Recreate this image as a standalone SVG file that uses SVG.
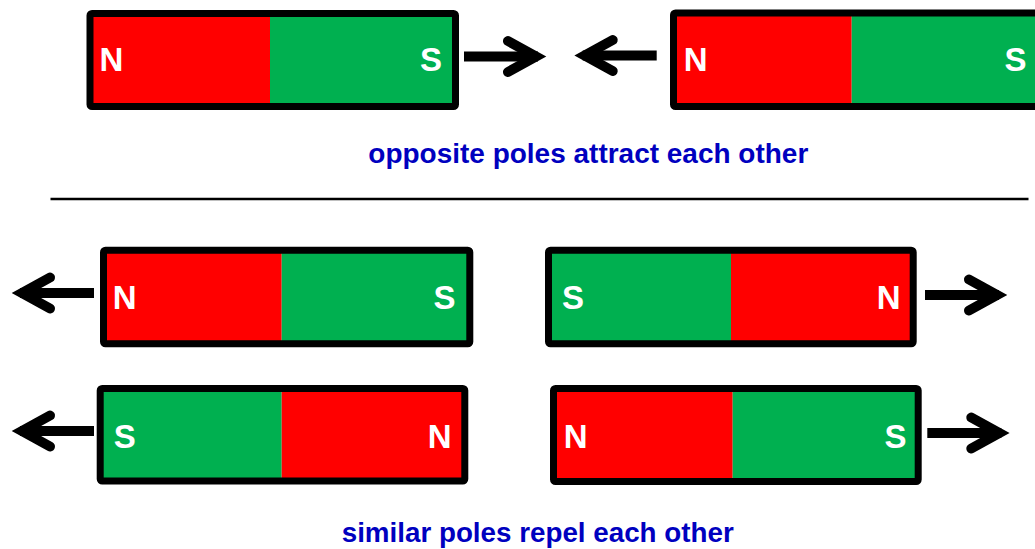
<svg xmlns="http://www.w3.org/2000/svg" xmlns:xlink="http://www.w3.org/1999/xlink" width="1035" height="549" viewBox="0 0 1035 549">
  <style>
    .red { fill: #FF0000; }
    .green { fill: #00B050; }
    .frame { fill: none; stroke: #000000; stroke-width: 7; stroke-linejoin: round; }
    .pole { font-family: "Liberation Sans", Arial, sans-serif; font-weight: bold; font-size: 33px; fill: #FFFFFF; }
    .caption { font-family: "Liberation Sans", Arial, sans-serif; font-weight: bold; font-size: 27px; fill: #0000BF; }
    .shaft { stroke: #000000; stroke-width: 10; fill: none; }
    .head { stroke: #000000; stroke-width: 10; fill: none; stroke-linecap: round; stroke-linejoin: miter; }
  </style>
  <defs>
    <g id="arrowR">
      <line class="shaft" x1="0" y1="0" x2="74" y2="0"/>
      <path class="head" d="M 44 -15.5 L 72 0 L 44 15.5"/>
    </g>
  </defs>
  <rect width="1035" height="549" fill="#FFFFFF"/>

  <g id="magnet-top-left">
    <rect class="red" x="90" y="13.5" width="180" height="93"/>
    <rect class="green" x="270" y="13.5" width="185.5" height="93"/>
    <rect class="frame" x="90" y="13.5" width="365.5" height="93" rx="2"/>
    <text class="pole" x="99.5" y="70.7">N</text>
    <text class="pole" x="420" y="70.7">S</text>
  </g>

  <g id="magnet-top-right">
    <rect class="red" x="673.5" y="13" width="178.2" height="93.5"/>
    <rect class="green" x="851.7" y="13" width="222" height="93.5"/>
    <rect class="frame" x="673.5" y="13" width="400" height="93.5" rx="2"/>
    <text class="pole" x="683.8" y="70.5">N</text>
    <text class="pole" x="1004.5" y="70.5">S</text>
  </g>

  <line x1="50.5" y1="199" x2="1028.5" y2="199" stroke="#000000" stroke-width="2.5"/>

  <g id="magnet-mid-left">
    <rect class="red" x="103.5" y="250.2" width="178.2" height="93.6"/>
    <rect class="green" x="281.7" y="250.2" width="188.1" height="93.6"/>
    <rect class="frame" x="103.5" y="250.2" width="366.3" height="93.6" rx="2"/>
    <text class="pole" x="112.8" y="309.3">N</text>
    <text class="pole" x="433.5" y="309.3">S</text>
  </g>

  <g id="magnet-mid-right">
    <rect class="green" x="548.5" y="250.2" width="182.5" height="93.6"/>
    <rect class="red" x="731" y="250.2" width="182.2" height="93.6"/>
    <rect class="frame" x="548.5" y="250.2" width="364.7" height="93.6" rx="2"/>
    <text class="pole" x="562" y="309.3">S</text>
    <text class="pole" x="876.8" y="309.3">N</text>
  </g>

  <g id="magnet-bottom-left">
    <rect class="green" x="100.2" y="388.5" width="181.5" height="92.5"/>
    <rect class="red" x="281.7" y="388.5" width="183.1" height="92.5"/>
    <rect class="frame" x="100.2" y="388.5" width="364.6" height="92.5" rx="2"/>
    <text class="pole" x="113.8" y="448.3">S</text>
    <text class="pole" x="427.8" y="448.3">N</text>
  </g>

  <g id="magnet-bottom-right">
    <rect class="red" x="553.5" y="388.5" width="179.2" height="93"/>
    <rect class="green" x="732.7" y="388.5" width="185.5" height="93"/>
    <rect class="frame" x="553.5" y="388.5" width="364.7" height="93" rx="2"/>
    <text class="pole" x="563.8" y="448.3">N</text>
    <text class="pole" x="884.5" y="448.3">S</text>
  </g>

  <g id="connectors">
    <use xlink:href="#arrowR" transform="translate(464,56.5)"/>
    <use xlink:href="#arrowR" transform="translate(656.7,55.5) scale(-1,1)"/>
    <use xlink:href="#arrowR" transform="translate(94,293) scale(-1,1)"/>
    <use xlink:href="#arrowR" transform="translate(925,295)"/>
    <use xlink:href="#arrowR" transform="translate(94,431) scale(-1,1)"/>
    <use xlink:href="#arrowR" transform="translate(927.3,433)"/>
  </g>

  <g id="captions">
    <text class="caption" x="368.3" y="163.3" textLength="440" lengthAdjust="spacingAndGlyphs">opposite poles attract each other</text>
    <text class="caption" x="341.7" y="541.7" textLength="392" lengthAdjust="spacingAndGlyphs">similar poles repel each other</text>
  </g>
</svg>
